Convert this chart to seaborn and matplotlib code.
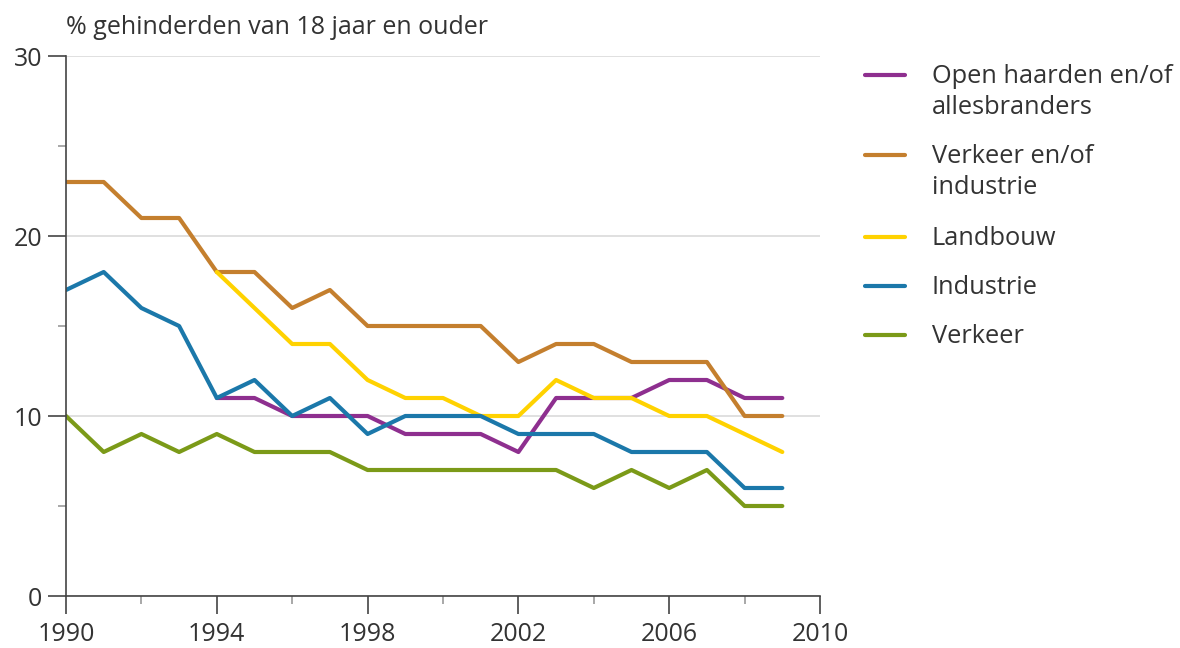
import numpy as np
import pandas as pd
import matplotlib
matplotlib.use("Agg")
import matplotlib.pyplot as plt
import seaborn as sns
from matplotlib.lines import Line2D

years = list(range(1990, 2010))
nan = np.nan

open_haarden = [nan, nan, nan, nan, 11, 11, 10, 10, 10, 9, 9, 9, 8, 11, 11, 11, 12, 12, 11, 11]
verkeer_industrie = [23, 23, 21, 21, 18, 18, 16, 17, 15, 15, 15, 15, 13, 14, 14, 13, 13, 13, 10, 10]
landbouw = [nan, nan, nan, nan, 18, 16, 14, 14, 12, 11, 11, 10, 10, 12, 11, 11, 10, 10, 9, 8]
industrie = [17, 18, 16, 15, 11, 12, 10, 11, 9, 10, 10, 10, 9, 9, 9, 8, 8, 8, 6, 6]
verkeer = [10, 8, 9, 8, 9, 8, 8, 8, 7, 7, 7, 7, 7, 7, 6, 7, 6, 7, 5, 5]

labels = ["Open haarden en/of\nallesbranders", "Verkeer en/of\nindustrie",
          "Landbouw", "Industrie", "Verkeer"]
colors = ["#8e2f8f", "#c47f2e", "#ffd200", "#1b78aa", "#7b9a18"]

x_major = list(range(1990, 2011, 4))
x_minor = list(range(1992, 2010, 4))
y_major = [0, 10, 20, 30]
y_minor = [5, 15, 25]

series = [open_haarden, verkeer_industrie, landbouw, industrie, verkeer]
rows = []
for lab, vals in zip(labels, series):
    for y, v in zip(years, vals):
        if not np.isnan(v):
            rows.append({"jaar": y, "waarde": v, "bron": lab})
df = pd.DataFrame(rows)

sns.set_style("white")
plt.rcParams["font.family"] = ["Open Sans", "DejaVu Sans"]
text_col = "#333333"
W, H = 1180, 648

fig = plt.figure(figsize=(W / 100, H / 100), dpi=100)
ax = fig.add_axes([66 / W, 1 - 596 / H, (820 - 66) / W, (596 - 56) / H])

sns.lineplot(data=df, x="jaar", y="waarde", hue="bron", hue_order=labels,
             palette=colors, linewidth=3, ax=ax, legend=False)

ax.set_xlim(1990, 2010)
ax.set_ylim(0, 30)
ax.set_xticks(x_major)
ax.set_xticks(x_minor, minor=True)
ax.set_yticks(y_major)
ax.set_yticks(y_minor, minor=True)

ax.grid(axis="y", which="major", color="#dadada", linewidth=1.2)
ax.set_axisbelow(True)
for s in ["top", "right"]:
    ax.spines[s].set_visible(False)
for s in ["left", "bottom"]:
    ax.spines[s].set_color("#444444")
    ax.spines[s].set_linewidth(1.2)

ax.tick_params(which="both", bottom=True, left=True, direction="out",
               width=1.2, labelsize=18, labelcolor=text_col)
ax.tick_params(axis="y", which="major", length=13, color="#444444", pad=4)
ax.tick_params(axis="y", which="minor", length=6, color="#999999")
ax.tick_params(axis="x", which="major", length=13, color="#444444", pad=6)
ax.tick_params(axis="x", which="minor", length=6, color="#999999")
ax.set_xlabel("")
ax.set_ylabel("")

fig.text(66 / W, 1 - 28 / H, "% gehinderden van 18 jaar en ouder",
         fontsize=18, color=text_col, ha="left", va="center")

# legend, drawn by hand so the handle sits on the first text line
leg_y = [75, 155, 237, 286, 335]
for lab, c, yp in zip(labels, colors, leg_y):
    yf = 1 - yp / H
    fig.add_artist(Line2D([865 / W, 905 / W], [yf, yf], color=c, linewidth=3,
                          transform=fig.transFigure))
    fig.text(932 / W, yf + 11 / H, lab, fontsize=18.3, color=text_col,
             ha="left", va="top", linespacing=1.3)

fig.savefig("out.png", dpi=100)
